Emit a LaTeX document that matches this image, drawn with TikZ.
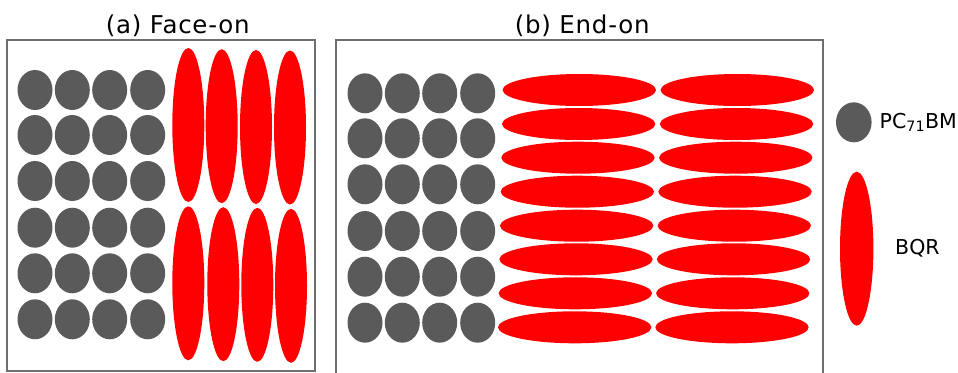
\documentclass[tikz,border=0pt]{standalone}
\usepackage{fontspec}
\setmainfont{DejaVu Sans}
\newfontfamily\titlefont[LetterSpace=3]{DejaVu Sans}
\definecolor{molgray}{HTML}{5A5A5A}
\definecolor{framegray}{HTML}{6E6E6E}
\begin{document}
\begin{tikzpicture}[x=1pt,y=-1pt,
  frame/.style={draw=framegray,line width=2pt},
  pcbm/.style={fill=molgray},
  bqr/.style={fill=red},
  title/.style={font=\titlefont\fontsize{24.5}{28}\selectfont,inner sep=0pt},
  legendtext/.style={font=\fontsize{20.5}{24}\selectfont,anchor=base west,inner sep=0pt}]
\useasboundingbox (0,0) rectangle (958,372);

% panel frames
\draw[frame] (7,39.5) rectangle (314.5,370.8);
\draw[frame] (336,375) -- (336,39.5) -- (822.5,39.5) -- (822.5,375);

% titles
\node[title] (ta) at (177.7,25.8) {(a) Face-on};
\node[title] (tb) at (582.2,25.8) {(b) End-on};

% (a) face-on: fullerene grid
\foreach \x in {35,72.3,109.7,147.7}
  \foreach \y in {90,135,181,227.7,273.3,319.3}
    \fill[pcbm] (\x,\y) ellipse [x radius=17.5, y radius=20];

% (a) face-on: standing BQR molecules
\foreach \x/\y in {188.3/125,221.7/126.2,256/127,290/127.5,
                   188.3/283.3,223.3/284.2,257.3/284.8,291/285.8}
  \fill[bqr] (\x,\y) ellipse [x radius=16, y radius=77];

% (b) end-on: fullerene grid
\foreach \x in {365,402.3,439.7,477.7}
  \foreach \y in {93.3,138.3,184.3,231,276.7,322.7}
    \fill[pcbm] (\x,\y) ellipse [x radius=17.5, y radius=20];

% (b) end-on: lying BQR molecules
\foreach \y [count=\i from 0] in {90,124,157.7,191.7,225.7,259.3,293.3,327.3} {
  \fill[bqr] ({579.3-0.66*\i},\y) ellipse [x radius=76.7, y radius=16];
  \fill[bqr] ({737.3-0.76*\i},\y) ellipse [x radius=76.7, y radius=16];
}

% legend
\fill[pcbm] (853.8,122.3) ellipse [x radius=17.8, y radius=20];
\fill[bqr] (856.7,248.7) ellipse [x radius=16.7, y radius=77];
\node[legendtext] (lpcbm) at (879.5,128.3) {PC\textsubscript{71}BM};
\node[legendtext] (lbqr) at (895,254.5) {BQR};
\end{tikzpicture}
\end{document}
